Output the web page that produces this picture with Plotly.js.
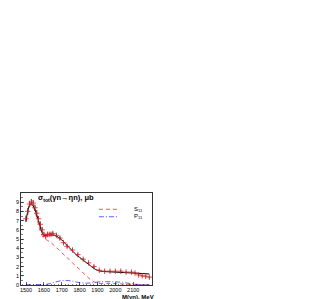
<!DOCTYPE html>
<html><head><meta charset="utf-8">
<script src="https://cdn.plot.ly/plotly-3.0.1.min.js"></script>
<style>body{margin:0;background:#fff}#c{width:332px;height:299px}</style>
</head><body><div id="c"></div>
<script>
// Data points
const dataM = [1500,1510,1520,1530,1540,1550,1560,1570,1580,1590,1600,1610,1620,1630,1640,1650,1670,1690,1710,1730,1760,1790,1820,1850,1880,1910,1940,1970,2000,2030,2060,2090,2110,2130,2150,2170,2190];
const dataS = [7.2,8.0,8.8,9.0,8.9,8.4,7.8,7.2,6.6,6.0,5.5,5.3,5.5,5.5,5.5,5.6,5.4,5.1,4.6,4.2,3.8,3.3,2.8,2.4,2.0,1.6,1.5,1.5,1.5,1.5,1.4,1.4,1.3,1.1,1.0,0.95,0.85];
const dataE = [0.35,0.35,0.35,0.35,0.35,0.35,0.35,0.3,0.3,0.3,0.25,0.2,0.2,0.2,0.2,0.2,0.2,0.2,0.2,0.2,0.15,0.15,0.15,0.15,0.15,0.12,0.12,0.12,0.12,0.12,0.12,0.12,0.12,0.12,0.12,0.12,0.12];
// Full fit
const fitM = [1500,1510,1520,1530,1540,1550,1560,1570,1580,1590,1600,1610,1620,1640,1660,1680,1700,1720,1740,1760,1780,1800,1820,1840,1860,1880,1900,1920,1950,2000,2050,2100,2150,2190];
const fitS = [7.0,8.0,8.7,8.8,8.6,8.2,7.6,7.0,6.3,5.7,5.4,5.4,5.45,5.45,5.4,5.2,4.9,4.5,4.1,3.7,3.3,3.0,2.7,2.4,2.1,1.8,1.6,1.5,1.45,1.4,1.35,1.3,1.25,1.2];
// S11 contribution
const s11M = [1500,1510,1520,1530,1540,1550,1560,1570,1580,1590,1600,1620,1640,1660,1680,1700,1720,1740,1760,1780,1800,1820,1840,1860,1880,1900,1950,2000,2050,2100,2150,2190];
const s11S = [6.9,7.9,8.6,8.7,8.5,8.0,7.3,6.6,5.9,5.4,5.1,4.85,4.6,4.25,3.9,3.5,3.15,2.8,2.4,2.05,1.7,1.3,0.95,0.6,0.35,0.2,0.17,0.15,0.1,0.06,0.03,0.02];
// P11 contribution
const p11M = [1500,1550,1600,1620,1640,1660,1680,1700,1720,1740,1760,1780,1800,1820,1840,1860,1880,1900,1920,1950,1980,2010,2040,2070,2100,2130,2160,2190];
const p11S = [0.03,0.04,0.06,0.1,0.18,0.3,0.4,0.47,0.5,0.48,0.42,0.33,0.26,0.22,0.2,0.22,0.27,0.32,0.35,0.36,0.35,0.33,0.28,0.2,0.12,0.06,0.03,0.02];
const xTicks = [1500,1600,1700,1800,1900,2000,2100];
const yTicks = [0,1,2,3,4,5,6,7,8,9];

const F = 'Liberation Sans, Arial, sans-serif';
const traces = [
  {x: s11M, y: s11S, mode:'lines', line:{color:'#ff5050', width:1, dash:'4px,3px', shape:'spline'}, hoverinfo:'skip'},
  {x: p11M, y: p11S, mode:'lines', line:{color:'#3a3aff', width:0.8, dash:'5px,2px,1px,2px', shape:'spline'}, hoverinfo:'skip'},
  {x: fitM, y: fitS, mode:'lines', line:{color:'#000', width:1, shape:'spline'}, hoverinfo:'skip'},
  {x: dataM, y: dataS, mode:'markers', marker:{symbol:'cross-thin-open', size:4, line:{color:'#000', width:0.8}},
   error_y:{type:'data', array:dataE, visible:true, color:'#000', thickness:0.7, width:0}}
];
const layout = {
  width:332, height:299, showlegend:false,
  paper_bgcolor:'#fff', plot_bgcolor:'#fff',
  margin:{l:21, r:180, t:193, b:14},
  font:{family:F, size:5.5, color:'#000'},
  xaxis:{range:[1472,2205], tickvals:xTicks, ticks:'inside', ticklen:3, tickwidth:0.6, tickcolor:'#000',
    showline:true, linecolor:'#000', linewidth:0.8, mirror:true, showgrid:false, zeroline:false,
    minor:{dtick:20, ticks:'inside', ticklen:1.5, tickcolor:'#000', tickwidth:0.5},
    tickfont:{size:5.5, family:F}, automargin:false},
  yaxis:{range:[0,10], tickvals:yTicks, ticks:'inside', ticklen:3, tickwidth:0.6, tickcolor:'#000',
    showline:true, linecolor:'#000', linewidth:0.8, mirror:true, showgrid:false, zeroline:false,
    minor:{dtick:0.5, ticks:'inside', ticklen:1.5, tickcolor:'#000', tickwidth:0.5},
    tickfont:{size:5.5, family:F}, automargin:false},
  shapes:[
    {type:'line', xref:'paper', yref:'paper', x0:0.595, x1:0.74, y0:0.823, y1:0.823, line:{color:'#ff5050', width:1, dash:'4px,3px'}},
    {type:'line', xref:'paper', yref:'paper', x0:0.595, x1:0.74, y0:0.742, y1:0.742, line:{color:'#3a3aff', width:0.8, dash:'5px,2px,1px,2px'}}
  ],
  annotations:[
    {xref:'paper', yref:'paper', x:0.115, y:0.946, xanchor:'left', yanchor:'middle', showarrow:false,
     text:'<b>σ<sub>tot</sub>(γn→ηn), μb</b>', font:{size:7.5, family:F}},
    {xref:'paper', yref:'paper', x:1.03, y:-0.128, xanchor:'right', yanchor:'middle', showarrow:false,
     text:'<b>M(γη), MeV</b>', font:{size:6, family:F}},
    {xref:'paper', yref:'paper', x:0.845, y:0.823, xanchor:'left', yanchor:'middle', showarrow:false,
     text:'S<sub>11</sub>', font:{size:6, family:F}},
    {xref:'paper', yref:'paper', x:0.845, y:0.742, xanchor:'left', yanchor:'middle', showarrow:false,
     text:'P<sub>11</sub>', font:{size:6, family:F}}
  ]
};
Plotly.newPlot('c', traces, layout, {staticPlot:true, displayModeBar:false});
</script></body></html>
